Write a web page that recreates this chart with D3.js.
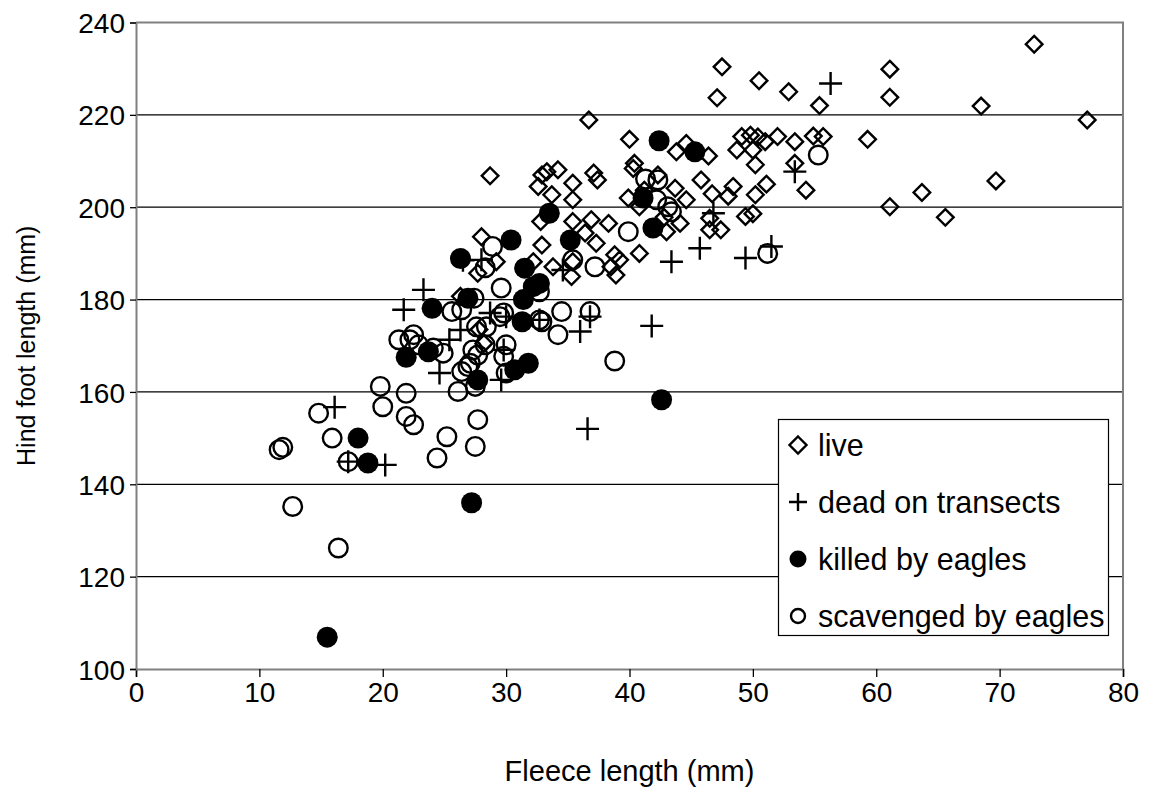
<!DOCTYPE html>
<html>
<head>
<meta charset="utf-8">
<script src="https://cdn.jsdelivr.net/npm/d3@7"></script>
<style>
  html, body { margin: 0; padding: 0; background: #fff; }
  svg text { font-family: "Liberation Sans", Arial, sans-serif; fill: #000; }
</style>
</head>
<body>
<svg id="chart" width="1152" height="789"></svg>
<script>
// ---- data (fleece length mm, hind foot length mm) ----
const live = [
  [72.8,235.3],[77.1,218.9],[68.5,221.9],[69.7,205.7],[65.6,197.8],[63.7,203.2],[61.1,229.9],[61.1,223.8],[61.1,200.1],[59.3,214.7],
  [55.4,222],[55.7,215.3],[54.9,215.4],[54.3,203.7],[53.4,214.2],[53.4,209.5],[52.9,225],[52,215.3],[51.1,205],[51,214.2],
  [50.5,227.4],[50.4,215.2],[50.2,209.2],[50.2,202.7],[50,212.4],[50,198.6],[49.8,215.6],[49.4,198],[49.1,215.3],[48.7,212.4],
  [48.4,204.5],[48,202.4],[47.5,230.4],[47.4,195.1],[47.1,223.7],[46.7,202.9],[46.5,197.6],[46.5,195.1],[46.4,211.1],[45.8,205.9],
  [44.6,213.8],[43.8,212],[44.6,201.6],[43.7,204.1],[44.1,196.5],[43,194.7],[42.8,197.8],[42.3,207],[41.2,203.7],[40.8,200.1],
  [40.4,209.5],[40.3,208.4],[40,214.7],[39.9,202],[40.8,190],[38.8,189.7],[38.3,196.5],[38.5,187.1],[38.9,185.3],[39.2,188.6],
  [37.4,205.9],[37.1,207.4],[36.7,218.9],[36.9,197.3],[36.4,194.4],[37.3,192.2],[35.4,205.2],[35.4,201.6],[35.4,196.9],[35.4,188.2],
  [35.3,185],[34.2,208.1],[33.3,207.7],[32.9,207],[33.7,202.7],[32.8,196.9],[32.9,191.8],[33.8,187.1],[32.6,204.5],[32.2,188.2],
  [28.7,206.8],[28,193.6],[29.2,188.2],[27.7,185.7],[26.3,180.7],[27.8,173.5],[28.2,170.5]
];
const deadOnTransects = [
  [56.3,226.8],[53.4,207.7],[46.8,198.7],[45.7,191.1],[49.4,189],[51.5,191.5],[43.4,188.2],[41.8,174.3],[36.6,152],[36.8,176.3],
  [36,173.1],[34.6,186.4],[32.7,175.6],[30,176.3],[29.8,169.1],[29.6,162.6],[28.7,177.1],[28,188.6],[26.5,188.5],[26.3,173.4],
  [25.4,171.3],[24.6,164.1],[23.3,182.1],[21.7,177.8],[16.1,156.7],[17.2,144.9],[20.2,144.2]
];
const killedByEagles = [
  [42.4,214.4],[45.3,212],[41.1,202],[41.9,195.5],[33.5,198.7],[35.2,192.9],[30.4,192.9],[32.7,183.5],[31.5,186.8],[26.3,188.9],
  [26.9,180.3],[32.2,182.8],[31.4,180],[24,178.1],[31.3,175.2],[30.7,164.8],[31.8,166.2],[27.7,162.6],[21.9,167.5],[23.7,168.7],
  [18,150],[18.8,144.6],[42.6,158.3],[27.2,136],[15.5,106.9]
];
const scavengedByEagles = [
  [55.3,211.3],[51.2,190],[41.3,206.1],[42.3,205.9],[43.1,200.1],[43.4,199],[42.2,201.6],[39.9,194.7],[37.2,187.1],[35.4,188.6],
  [34.5,177.4],[36.8,177.4],[32.9,175.2],[34.2,172.4],[38.8,166.7],[28.9,191.5],[28.3,186.9],[29.6,182.5],[32.7,181.7],[27.4,180.3],
  [25.6,177.4],[29.5,176.3],[32.7,175.6],[27.6,174.1],[28.4,174.1],[29.8,177.1],[26.4,177.8],[22.5,172.4],[21.3,171.3],[22.2,171.3],
  [22.9,170.2],[24.1,169.5],[24.9,168.4],[26.4,164.4],[26.1,160.1],[26.9,165.5],[27.7,168],[27.5,161.2],[28.3,170.2],[30,170.2],
  [29.8,167.7],[30,164.1],[27.3,169.1],[27.1,166.2],[19.8,161.2],[20,156.8],[21.9,159.7],[21.9,154.7],[22.5,152.9],[25.2,150.3],
  [27.7,154],[27.5,148.2],[24.4,145.7],[14.8,155.4],[15.9,150],[11.6,147.5],[11.9,148],[17.2,144.9],[12.7,135.2],[16.4,126.2]
];
const seriesNames = ["live", "dead on transects", "killed by eagles", "scavenged by eagles"];
const xTicks = [0, 10, 20, 30, 40, 50, 60, 70, 80];
const yTicks = [100, 120, 140, 160, 180, 200, 220, 240];
const xTitle = "Fleece length (mm)";
const yTitle = "Hind foot length (mm)";

(function () {
  // ---- layout ----
  const pL = 136, pR = 1123, pT = 22.5, pB = 669;
  const svg = d3.select("#chart");
  const x = d3.scaleLinear().domain([0, 80]).range([pL, pR]);
  const y = d3.scaleLinear().domain([100, 240]).range([pB, pT]);

  // gridlines
  svg.append("g").selectAll("line").data(yTicks.filter(d => d > 100 && d < 240)).join("line")
    .attr("x1", pL).attr("x2", pR).attr("y1", d => y(d)).attr("y2", d => y(d))
    .attr("stroke", "#000").attr("stroke-width", 1.3);

  // plot frame (top & right)
  svg.append("path")
    .attr("d", `M${pL},${pT}H${pR}V${pB}`)
    .attr("fill", "none").attr("stroke", "#808080").attr("stroke-width", 2);

  // axes
  const tickFont = 28;
  const xAxis = svg.append("g").attr("transform", `translate(0,${pB})`)
    .call(d3.axisBottom(x).tickValues(xTicks).tickSize(8).tickPadding(5).tickFormat(d3.format("d")));
  const yAxis = svg.append("g").attr("transform", `translate(${pL},0)`)
    .call(d3.axisLeft(y).tickValues(yTicks).tickSize(6).tickPadding(5).tickFormat(d3.format("d")));
  [xAxis, yAxis].forEach(g => {
    g.select(".domain").attr("stroke", "#808080").attr("stroke-width", 2);
    g.selectAll(".tick line").attr("stroke", "#000").attr("stroke-width", 1.3);
    g.selectAll(".tick text").attr("font-size", tickFont).attr("font-family", "Liberation Sans, Arial, sans-serif").attr("fill", "#000");
  });
  yAxis.selectAll(".tick text").attr("dy", "0.36em");

  // axis titles
  svg.append("text").attr("x", (pL + pR) / 2).attr("y", 781).attr("text-anchor", "middle")
    .attr("font-size", 29).text(xTitle);
  svg.append("text").attr("transform", `translate(35,${(pT + pB) / 2}) rotate(-90)`).attr("text-anchor", "middle")
    .attr("font-size", 25).text(yTitle);

  // markers
  const sw = 2.4;
  function drawDiamond(g, r) {
    g.append("path").attr("d", `M0,${-r}L${r},0L0,${r}L${-r},0Z`)
      .attr("fill", "none").attr("stroke", "#000").attr("stroke-width", sw);
  }
  function drawCross(g, r) {
    g.append("path").attr("d", `M${-r},0H${r}M0,${-r}V${r}`)
      .attr("fill", "none").attr("stroke", "#000").attr("stroke-width", sw);
  }
  function drawFilled(g, r) {
    g.append("circle").attr("r", r).attr("fill", "#000");
  }
  function drawOpen(g, r) {
    g.append("circle").attr("r", r).attr("fill", "none").attr("stroke", "#000").attr("stroke-width", sw);
  }
  const seriesList = [
    { data: live, draw: drawDiamond, r: 8.3, lr: 8.5 },
    { data: deadOnTransects, draw: drawCross, r: 11.5, lr: 9 },
    { data: killedByEagles, draw: drawFilled, r: 10.5, lr: 8.5 },
    { data: scavengedByEagles, draw: drawOpen, r: 9.3, lr: 7 }
  ];
  seriesList.forEach(s => {
    svg.append("g").selectAll("g").data(s.data).join("g")
      .attr("transform", d => `translate(${x(d[0])},${y(d[1])})`)
      .each(function () { s.draw(d3.select(this), s.r); });
  });

  // legend
  const lg = svg.append("g");
  lg.append("rect").attr("x", 778.5).attr("y", 419.5).attr("width", 330).attr("height", 216)
    .attr("fill", "#fff").attr("stroke", "#000").attr("stroke-width", 1.2);
  const rowY = [445, 502, 559, 616];
  seriesList.forEach((s, i) => {
    const g = lg.append("g").attr("transform", `translate(798,${rowY[i]})`);
    s.draw(g, s.lr);
    lg.append("text").attr("x", 818).attr("y", rowY[i]).attr("dy", "0.36em")
      .attr("font-size", 30.5).text(seriesNames[i]);
  });
})();
</script>
</body>
</html>
